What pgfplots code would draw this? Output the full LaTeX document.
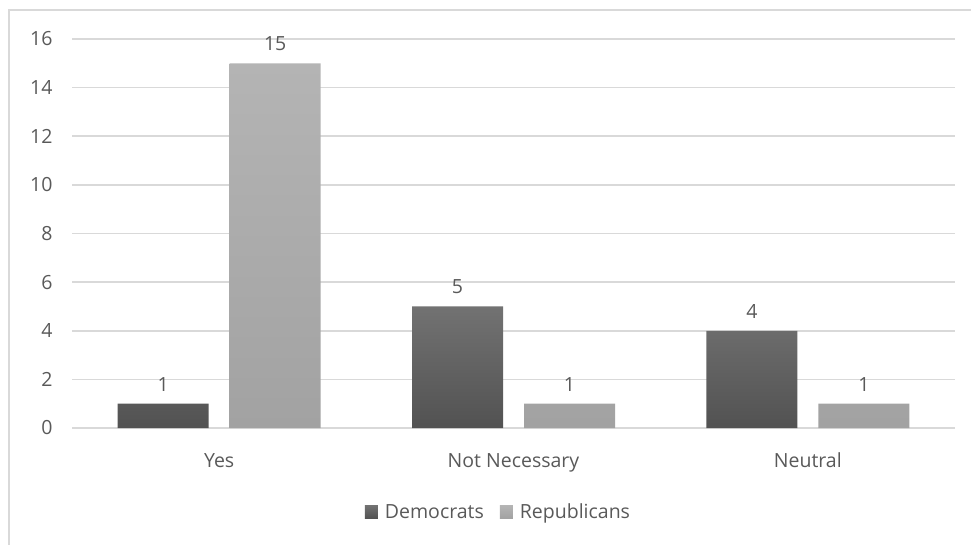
\documentclass[border=0pt]{standalone}
\usepackage{pgfplots}
\pgfplotsset{compat=1.18}
\usepackage{fontspec}
\setmainfont{Open Sans}
\definecolor{txt}{HTML}{595959}
\definecolor{gridc}{HTML}{D9D9D9}
\definecolor{demtop}{HTML}{727272}
\definecolor{dembot}{HTML}{525252}
\definecolor{reptop}{HTML}{B4B4B4}
\definecolor{repbot}{HTML}{A2A2A2}
\newcommand{\chartfont}{\fontsize{19.5}{24}\selectfont}
\begin{document}
\begin{tikzpicture}[x=1pt,y=1pt,font=\chartfont]
\useasboundingbox (0,0) rectangle (971,544);
\begin{scope}
\clip (0,0) rectangle (971,544);
\draw[gridc, line width=2pt] (8.5,-20) -- (8.5,534) -- (1000,534);
\end{scope}
\begin{axis}[
  at={(72pt,116pt)}, anchor=south west,
  width=883pt, height=389pt, scale only axis,
  ybar=21pt, bar width=91pt,
  xmin=-0.5, xmax=2.5, ymin=0, ymax=16,
  xtick={0,1,2}, xticklabels={Yes, Not Necessary, Neutral},
  ytick={0,2,...,16},
  /pgf/number format/assume math mode=true,
  axis x line*=bottom, axis y line*=left,
  x axis line style={draw=gridc, line width=1.5pt, -},
  y axis line style={draw=none},
  major tick length=0pt, tick style={draw=none},
  ymajorgrids, grid style={draw=gridc, line width=1.5pt},
  tick label style={text=txt, font=\chartfont},
  yticklabel style={xshift=-16pt},
  xticklabel style={anchor=base, yshift=-39pt},
  nodes near coords,
  every node near coord/.append style={text=txt, yshift=9pt, font=\chartfont},
  legend style={at={(0.483,-0.216)}, anchor=center, draw=none, fill=none,
    legend columns=2, text=txt, font=\chartfont,
    /tikz/every even column/.append style={column sep=14pt}},
  legend image code/.code={\fill[#1,draw=none] (0pt,-6.5pt) rectangle (13pt,6.5pt);},
]
\addplot[draw=none, top color=demtop, bottom color=dembot] coordinates {(0,1) (1,5) (2,4)};
\addplot[draw=none, top color=reptop, bottom color=repbot] coordinates {(0,15) (1,1) (2,1)};
\legend{\hspace{5pt}Democrats, \hspace{5pt}Republicans}
\end{axis}
\end{tikzpicture}
\end{document}
